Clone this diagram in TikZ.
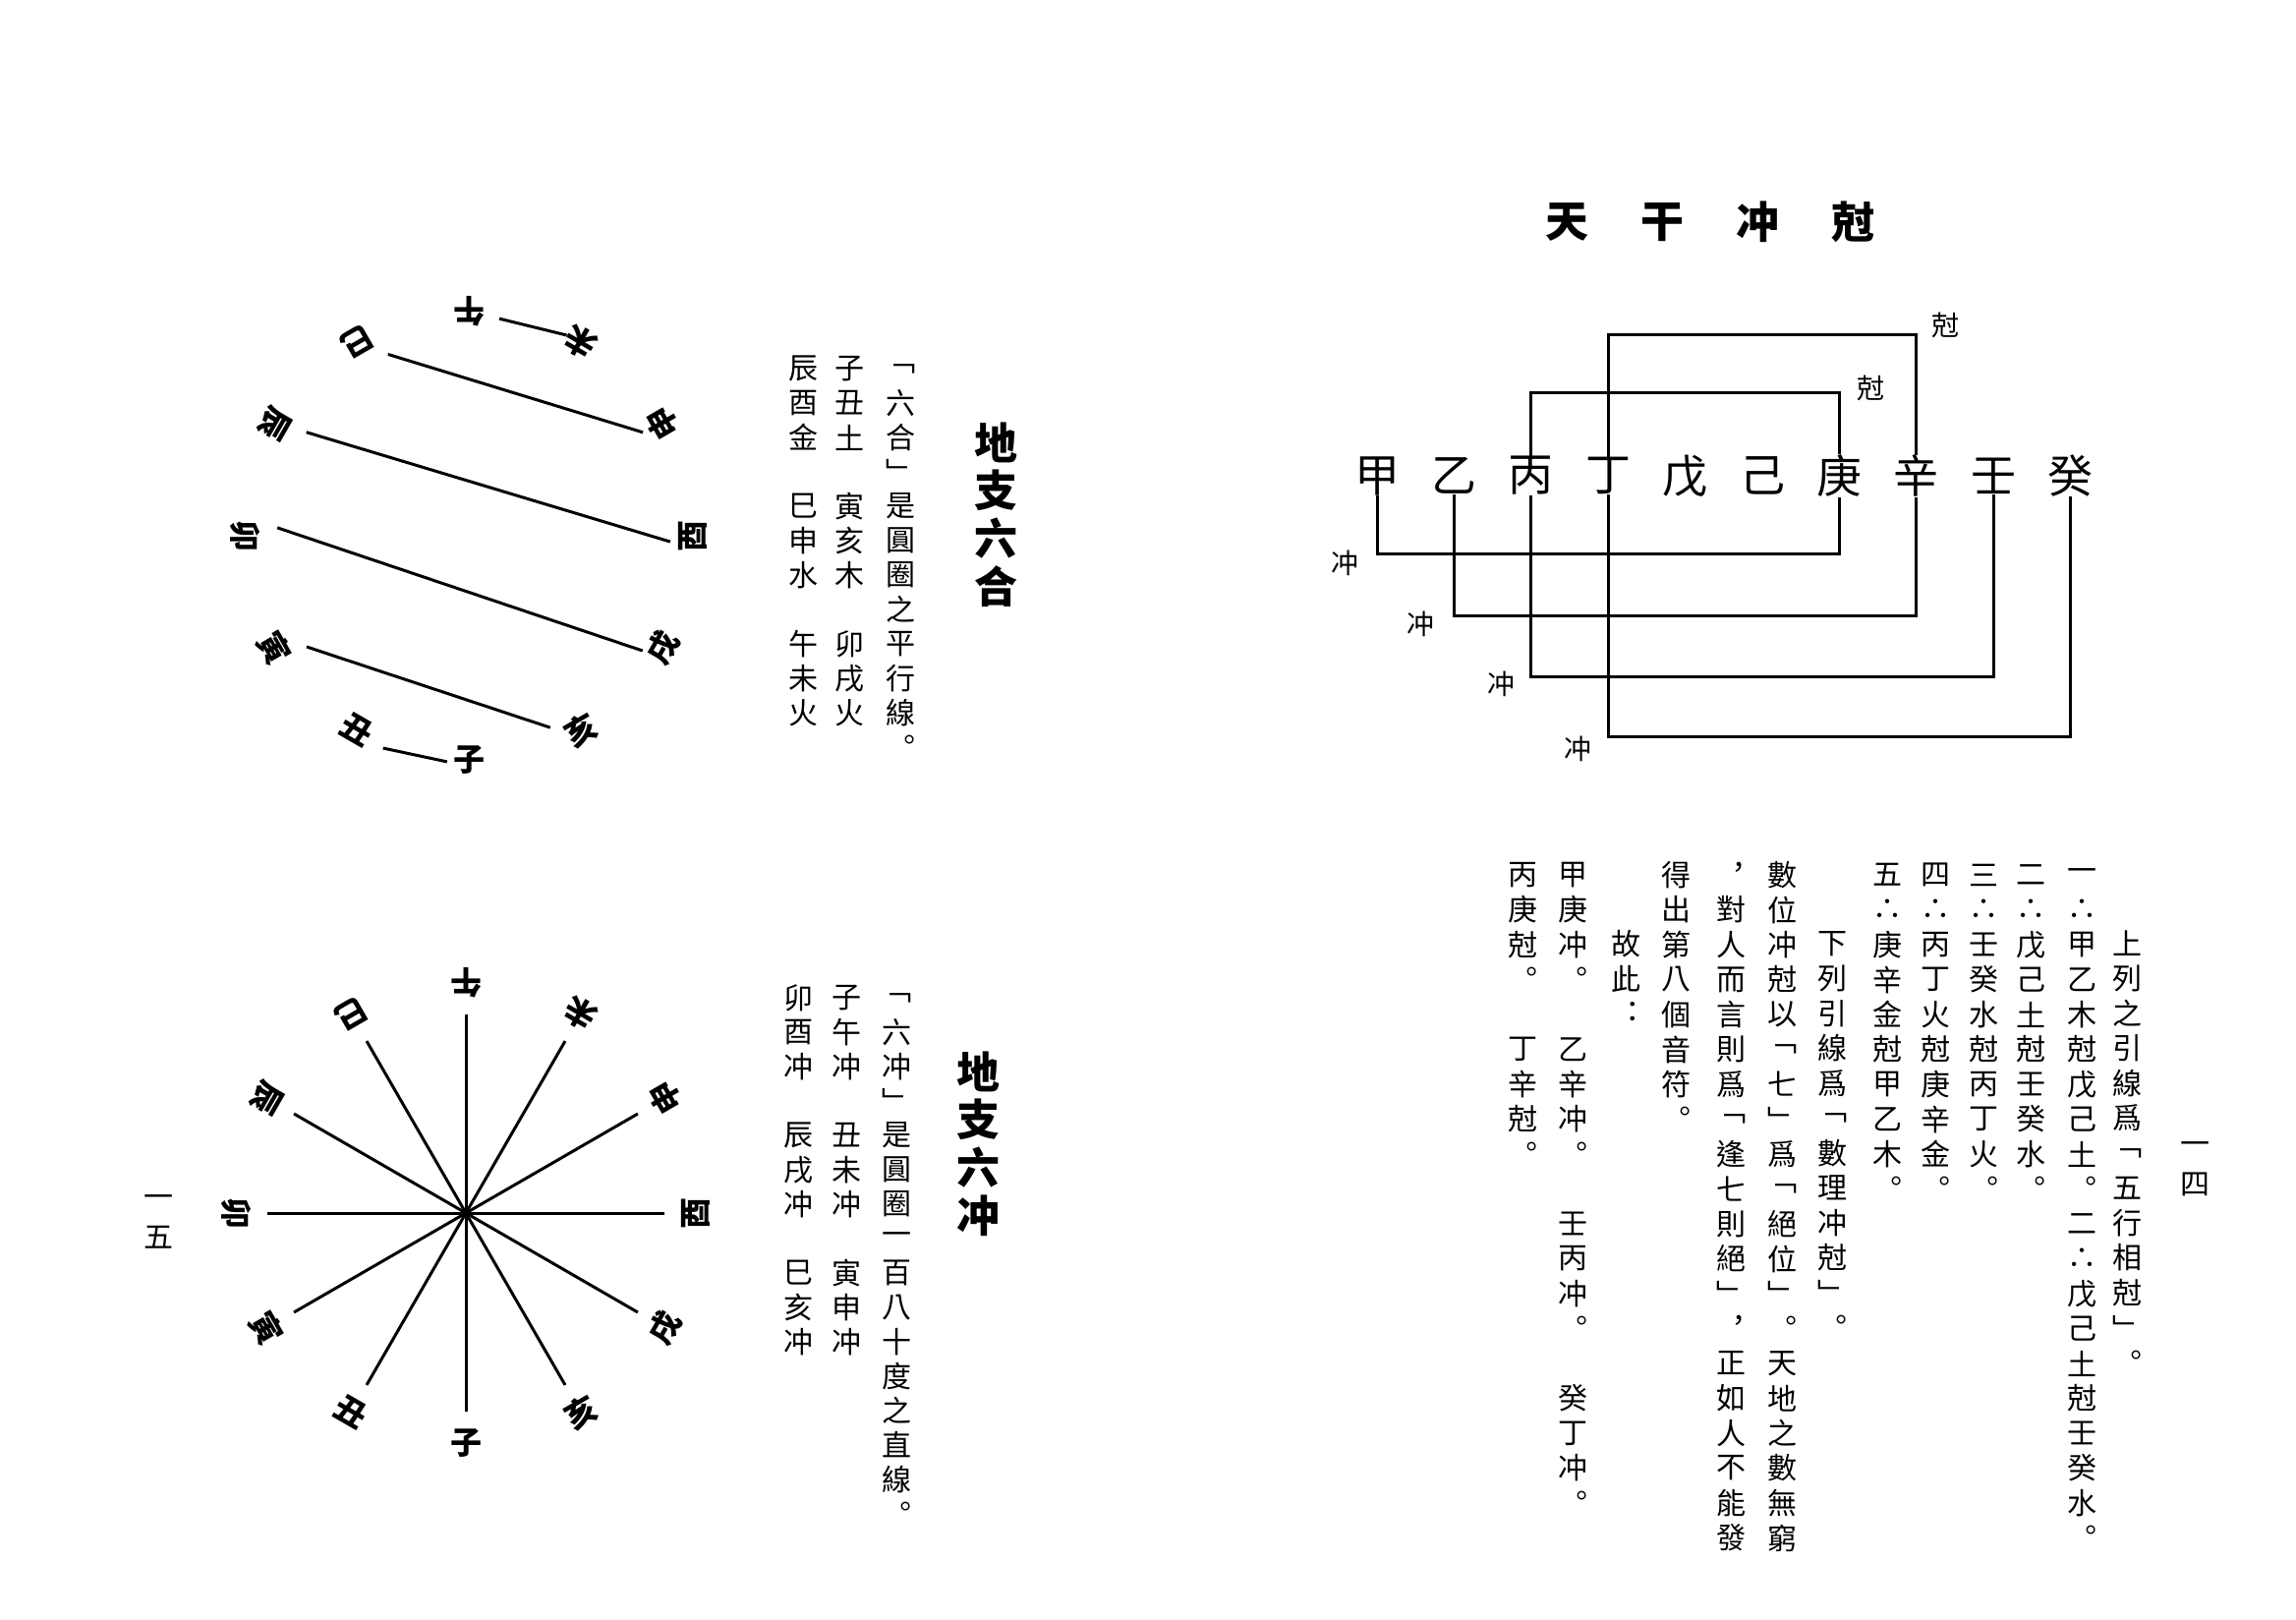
\documentclass[tikz,border=0pt]{standalone}
\usepackage{fontspec}
\setmainfont{Noto Sans CJK TC}
\usetikzlibrary{calc}
\tikzset{
  vch/.style={inner sep=0pt, font=\fontsize{30}{30}\selectfont},
  ttl/.style={inner sep=0pt, font=\fontsize{44}{44}\selectfont\bfseries},
  stem/.style={inner sep=0pt, font=\fontsize{46}{46}\selectfont},
  small/.style={inner sep=0pt, font=\fontsize{28}{28}\selectfont},
  branch/.style={inner sep=0pt, font=\fontsize{32}{32}\selectfont\bfseries},
  ln/.style={line width=3pt},
}
\newcommand\vcol[5]{% name, x, ytop, pitch, list
  \foreach \ch [count=\k] in {#5} {\node[vch] (#1\k) at (#2, {-(#3)-(\k-1)*#4}) {\ch};}}
\newcommand\vttl[4]{% name, x, ytop, list
  \foreach \ch [count=\k] in {#4} {\node[ttl] (#1\k) at (#2, {-(#3)-(\k-1)*49}) {\ch};}}
\begin{document}
\begin{tikzpicture}[x=1pt,y=1pt]
\useasboundingbox (0,0) rectangle (2336,-1648);
\fill[white] (0,0) rectangle (2336,-1648);

% ===== 天干冲尅 =====
\foreach \c [count=\i] in {天,干,冲,尅} \node[ttl] (t\i) at ({1594+97*(\i-1)},-226) {\c};
\foreach \s [count=\i from 0] in {甲,乙,丙,丁,戊,己,庚,辛,壬,癸}
  \node[stem] (s\i) at ({1401+78.4*\i},-484) {\s};
\draw[ln] (s2.north) -- (s2.north |- 0,-399) -| (s6.north);
\draw[ln] (s3.north) -- (s3.north |- 0,-340) -| (s7.north);
\node[small] (k1) at (1903,-395) {尅};
\node[small] (k2) at (1979,-331) {尅};
\draw[ln] (s0.south) -- (s0.south |- 0,-563) -| (s6.south);
\draw[ln] (s1.south) -- (s1.south |- 0,-626) -| (s7.south);
\draw[ln] (s2.south) -- (s2.south |- 0,-688) -| (s8.south);
\draw[ln] (s3.south) -- (s3.south |- 0,-749) -| (s9.south);
\node[small] (c1) at (1368,-573) {冲};
\node[small] (c2) at (1445,-635) {冲};
\node[small] (c3) at (1527,-696) {冲};
\node[small] (c4) at (1605,-762) {冲};

% ===== right page text =====
\vcol{pn}{2233}{1168}{37}{一,四}
\vcol{ra}{2164}{960}{35.5}{上,列,之,引,線,爲,﹁,五,行,相,尅,﹂,︒}
\vcol{rb}{2118}{890}{35.5}{一,∴,甲,乙,木,尅,戊,己,土,︒,二,∴,戊,己,土,尅,壬,癸,水,︒}
\vcol{rc}{2066}{890}{35.5}{二,∴,戊,己,土,尅,壬,癸,水,︒}
\vcol{rd}{2018}{890}{35.5}{三,∴,壬,癸,水,尅,丙,丁,火,︒}
\vcol{re}{1969}{890}{35.5}{四,∴,丙,丁,火,尅,庚,辛,金,︒}
\vcol{rf}{1920}{890}{35.5}{五,∴,庚,辛,金,尅,甲,乙,木,︒}
\vcol{rg}{1864}{960}{35.5}{下,列,引,線,爲,﹁,數,理,冲,尅,﹂,︒}
\vcol{rh}{1813}{890}{35.5}{數,位,冲,尅,以,﹁,七,﹂,爲,﹁,絕,位,﹂,︒,天,地,之,數,無,窮}
\vcol{ri}{1761}{890}{35.5}{︐,對,人,而,言,則,爲,﹁,逢,七,則,絕,﹂,︐,正,如,人,不,能,發}
\vcol{rj}{1705}{890}{35.5}{得,出,第,八,個,音,符,︒}
\vcol{rk}{1654}{960}{35.5}{故,此,︓}
\vcol{rl}{1600}{890}{35.5}{甲,庚,冲,︒,,乙,辛,冲,︒,,壬,丙,冲,︒,,癸,丁,冲,︒}
\vcol{rm}{1549}{890}{35.5}{丙,庚,尅,︒,,丁,辛,尅,︒}

% ===== left page: 地支六合 =====
\vttl{ha}{1013}{450}{地,支,六,合}
\vcol{la}{916}{375}{35}{﹁,六,合,﹂,是,圓,圈,之,平,行,線,︒}
\vcol{lb}{864}{375}{35}{子,丑,土,,寅,亥,木,,卯,戌,火}
\vcol{lc}{817}{375}{35}{辰,酉,金,,巳,申,水,,午,未,火}

\coordinate (H) at (477,-545);
\foreach \n/\a in {子/-90,丑/-120,寅/-150,卯/180,辰/150,巳/120,午/90,未/60,申/30,酉/0,戌/-30,亥/-60}
  \node[branch, rotate=\a+90] (h\a) at ($(H)+(\a:228)$) {\n};
\draw[ln] ($(H)+(82:223)$) -- ($(H)+(64:227)$);
\draw[ln] ($(H)+(114:202)$) -- ($(H)+(30.7:206)$);
\draw[ln] ($(H)+(147.5:196)$) -- ($(H)+(-1.7:205)$);
\draw[ln] ($(H)+(177.6:195)$) -- ($(H)+(-33.5:212)$);
\draw[ln] ($(H)+(-145.6:200)$) -- ($(H)+(-67:212)$);
\draw[ln] ($(H)+(-112:233)$) -- ($(H)+(-95.5:231)$);

% ===== left page: 地支六冲 =====
\vttl{hb}{995}{1090}{地,支,六,冲}
\vcol{ld}{912}{1015}{35}{﹁,六,冲,﹂,是,圓,圈,一,百,八,十,度,之,直,線,︒}
\vcol{le}{861}{1015}{35}{子,午,冲,,丑,未,冲,,寅,申,冲}
\vcol{lf}{812}{1015}{35}{卯,酉,冲,,辰,戌,冲,,巳,亥,冲}
\vcol{pm}{161}{1222}{37}{一,五}

\coordinate (S) at (474,-1234);
\foreach \n/\a in {子/-90,丑/-120,寅/-150,卯/180,辰/150,巳/120,午/90,未/60,申/30,酉/0,戌/-30,亥/-60}
  \node[branch, rotate=\a+90] (x\a) at ($(S)+(\a:234)$) {\n};
\foreach \a in {0,30,60,90,120,150}
  \draw[ln] ($(S)+(\a:202)$) -- ($(S)+(\a+180:202)$);
\end{tikzpicture}
\end{document}
